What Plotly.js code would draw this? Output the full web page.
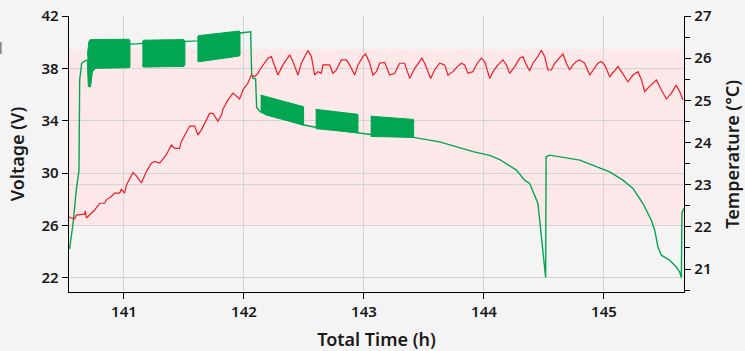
<!DOCTYPE html>
<html>
<head>
<meta charset="utf-8">
<script src="https://cdn.plot.ly/plotly-3.0.1.min.js"></script>
<style>html,body{margin:0;padding:0;background:#f4f4f4;overflow:hidden;}#chart{width:745px;height:351px;}</style>
</head>
<body>
<div id="chart"></div>
<script>
// Temperature (°C) series, right axis
const tempTime = [140.542,140.548,140.589,140.603,140.673,140.678,140.687,140.714,140.756,140.798,140.839,140.853,140.895,140.923,140.964,140.978,141.006,141.020,141.075,141.103,141.145,141.187,141.228,141.256,141.298,141.353,141.395,141.423,141.464,141.478,141.548,141.589,141.617,141.645,141.714,141.742,141.783,141.812,141.825,141.867,141.908,141.964,141.992,142.033,142.062,142.089,142.117,142.131,142.173,142.200,142.228,142.242,142.283,142.325,142.353,142.381,142.408,142.450,142.478,142.533,142.562,142.589,142.617,142.645,142.658,142.714,142.742,142.770,142.812,142.853,142.881,142.923,142.950,142.992,143.014,143.048,143.075,143.103,143.131,143.173,143.214,143.256,143.283,143.298,143.339,143.381,143.423,143.483,143.506,143.556,143.589,143.631,143.673,143.700,143.742,143.778,143.812,143.839,143.867,143.908,143.945,143.978,144.006,144.048,144.075,144.117,144.158,144.187,144.214,144.256,144.298,144.325,144.353,144.381,144.408,144.450,144.478,144.506,144.533,144.562,144.589,144.645,144.658,144.687,144.714,144.742,144.770,144.798,144.839,144.881,144.908,144.950,144.978,145.006,145.048,145.089,145.117,145.145,145.200,145.242,145.283,145.312,145.339,145.381,145.437,145.478,145.520,145.562,145.603,145.631,145.659];
const tempValue = [22.24,22.22,22.19,22.28,22.30,22.38,22.21,22.28,22.40,22.56,22.56,22.64,22.72,22.80,22.80,22.89,22.80,22.99,23.29,23.21,23.04,23.31,23.51,23.55,23.51,23.71,23.94,23.86,23.86,24.02,24.39,24.39,24.18,24.30,24.69,24.69,24.50,24.65,24.79,25.01,25.17,25.03,25.25,25.41,25.60,25.56,25.64,25.72,25.88,26.00,26.04,25.92,25.60,25.84,25.97,26.08,25.92,25.60,25.88,26.18,26.04,25.60,25.68,25.64,25.84,25.84,25.64,25.72,25.96,25.96,25.84,25.60,25.84,26.04,26.10,25.88,25.60,25.68,25.88,25.90,25.60,25.64,25.80,25.88,25.88,25.52,25.76,26.00,25.88,25.52,25.72,25.88,25.84,25.60,25.68,25.80,25.88,25.84,25.64,25.68,25.88,26.00,25.92,25.52,25.68,25.84,25.96,25.84,25.64,25.80,26.00,26.04,25.84,25.70,25.88,26.04,26.19,26.04,25.72,25.72,25.88,26.08,26.10,25.88,25.72,25.84,25.92,25.96,25.88,25.60,25.72,25.88,25.92,25.84,25.56,25.72,25.80,25.68,25.44,25.60,25.68,25.49,25.21,25.33,25.48,25.25,25.03,25.17,25.36,25.21,25.01];

// Voltage (V) series, left axis (continuous part)
const voltTime = [140.546,140.575,140.603,140.625,140.631,140.648,140.681,140.700,141.050,141.153,141.508,141.612,141.967,142.056,142.064,142.075,142.097,142.106,142.137,142.497,142.5975,142.950,143.056,143.414,143.631,143.909,144.048,144.131,144.270,144.339,144.381,144.450,144.478,144.506,144.514,144.518,144.548,144.798,145.048,145.158,145.242,145.325,145.395,145.423,145.450,145.478,145.548,145.603,145.631,145.645,145.650,145.664];
const voltValue = [24.2,26.1,28.7,30.2,37.1,38.4,38.6,38.6,39.85,39.9,40.05,40.1,40.7,40.8,37.62,37.24,37.2,35.0,34.68,33.67,33.5,33.05,32.95,32.73,32.39,31.64,31.35,31.04,30.23,29.46,29.21,27.68,25.13,22.58,22.02,31.25,31.37,30.99,30.1,29.46,28.83,27.68,26.40,25.64,24.36,23.73,23.35,22.83,22.45,22.02,26.96,27.3];

// Oscillation bands (upper and lower envelope of the voltage swings)
const bandTopTime = [
  [140.695,140.708,140.72,141.04,141.050],
  [141.153,141.16,141.50,141.508],
  [141.612,141.62,141.96,141.967],
  [142.139,142.497],
  [142.5975,142.950],
  [143.056,143.414]
];
const bandTopVolt = [
  [39.0,40.05,40.2,40.22,40.15],
  [39.9,40.15,40.2,40.05],
  [40.3,40.5,40.85,40.75],
  [35.96,35.07],
  [34.87,34.49],
  [34.35,34.10]
];
const bandBotTime = [
  [140.695,140.703,140.722,140.737,140.764,141.04,141.050],
  [141.153,141.16,141.50,141.508],
  [141.612,141.62,141.96,141.967],
  [142.139,142.186,142.497],
  [142.5975,142.950],
  [143.056,143.414]
];
const bandBotVolt = [
  [38.5,36.6,36.6,37.74,38.0,38.05,38.1],
  [38.3,38.1,38.15,38.3],
  [38.6,38.5,38.94,39.0],
  [34.68,34.43,33.67],
  [33.4,33.08],
  [32.8,32.73]
];

const xTicks = [141,142,143,144,145];
const yTicks = [22,26,30,34,38,42];
const y2Ticks = [21,22,23,24,25,26,27];

const GREEN = '#00a651', RED = '#ee1c25';
const traces = [];
for (let i = 0; i < bandTopTime.length; i++) {
  traces.push({
    x: bandTopTime[i].concat(bandBotTime[i].slice().reverse()),
    y: bandTopVolt[i].concat(bandBotVolt[i].slice().reverse()),
    type: 'scatter', mode: 'lines', fill: 'toself',
    fillcolor: GREEN, line: {color: GREEN, width: 1}, hoverinfo: 'skip', showlegend: false
  });
}
traces.push({x: voltTime, y: voltValue, type: 'scatter', mode: 'lines',
  line: {color: GREEN, width: 1.4}, showlegend: false});
traces.push({x: tempTime, y: tempValue, type: 'scatter', mode: 'lines', yaxis: 'y2',
  line: {color: RED, width: 1.2}, showlegend: false});

const tickFont = {family: 'Noto Sans', size: 15, color: '#1a1a1a', weight: 600};
const titleFont = {family: 'Noto Sans', size: 18, color: '#1a1a1a', weight: 600};

const layout = {
  width: 745, height: 351,
  margin: {l: 69, r: 61, t: 16, b: 59},
  paper_bgcolor: '#f4f4f4', plot_bgcolor: '#f4f4f4',
  showlegend: false,
  xaxis: {range: [140.542, 145.667], tickvals: xTicks, ticktext: xTicks.map(String),
    showgrid: true, gridcolor: '#d3d3d3', gridwidth: 1, zeroline: false,
    showline: true, linecolor: '#000', linewidth: 1.3, ticks: 'outside', ticklen: 6, tickcolor: '#000',
    tickfont: tickFont, title: {text: 'Total Time (h)', font: titleFont, standoff: 14}},
  yaxis: {range: [20.92, 42], tickvals: yTicks, ticktext: yTicks.map(String),
    showgrid: true, gridcolor: '#d3d3d3', gridwidth: 1, zeroline: false,
    showline: true, linecolor: '#000', linewidth: 1.3, ticks: 'outside', ticklen: 6, tickcolor: '#000',
    tickfont: tickFont, title: {text: 'Voltage (V)', font: titleFont, standoff: 12}},
  yaxis2: {range: [20.455, 27], tickvals: y2Ticks, ticktext: y2Ticks.map(String), overlaying: 'y', side: 'right',
    showgrid: false, zeroline: false,
    showline: true, linecolor: '#000', linewidth: 1.3, ticks: 'outside', ticklen: 6, tickcolor: '#000',
    minor: {dtick: 0.5, ticks: 'outside', ticklen: 5, tickcolor: '#000', showgrid: false},
    tickfont: tickFont},
  annotations: [
    {text: 'Temperature (°C)', xref: 'paper', yref: 'paper', x: 1.0775, y: 0.5,
      xanchor: 'center', yanchor: 'middle', textangle: -90, showarrow: false, font: titleFont}
  ],
  shapes: [
    {type: 'rect', xref: 'paper', yref: 'y', x0: 0, x1: 1, y0: 26, y1: 39.48,
      fillcolor: '#fde8e9', line: {width: 0}, layer: 'below'},
    {type: 'line', xref: 'paper', yref: 'y2', x0: 0, x1: 1, y0: 23, y1: 23,
      line: {color: '#d3d3d3', width: 1}, layer: 'below'},
    {type: 'rect', xref: 'paper', yref: 'paper', x0: -0.1127, x1: -0.1094, y0: 0.8625, y1: 0.9059,
      fillcolor: '#8a8a8a', line: {width: 0}}
  ]
};

Plotly.newPlot('chart', traces, layout, {displayModeBar: false, staticPlot: true});
</script>
</body>
</html>
